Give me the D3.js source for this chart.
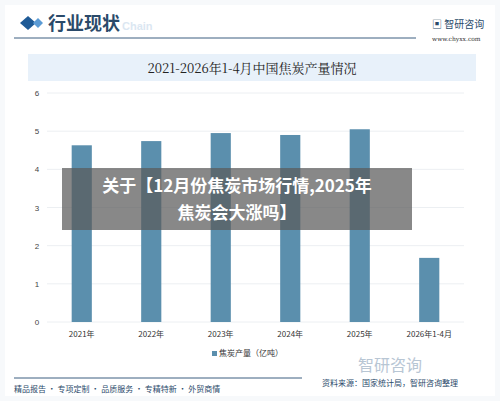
<!DOCTYPE html><html><head><meta charset="utf-8"><script src="https://cdn.jsdelivr.net/npm/d3@7"></script>
<style>body{margin:0;background:#fff;font-family:"Noto Sans CJK SC","Noto Sans",sans-serif}</style></head><body><svg id="c" width="500" height="401"></svg><script>
const categories=["2021年","2022年","2023年","2024年","2025年","2026年1-4月"];
const values=[4.63,4.74,4.95,4.90,5.05,1.68];
const yTicks=[0,1,2,3,4,5,6];
const svg=d3.select("#c");
const F='"Noto Sans CJK SC",sans-serif';
svg.append("rect").attr("width",500).attr("height",401).attr("fill","#f7f9fb");
svg.append("rect").attr("x",5).attr("y",5).attr("width",490).attr("height",391).attr("fill","#fff");
// header
svg.append("path").attr("d","M20,23 L28,16 L36,23 L28,30Z").attr("fill","#1e5a96");
svg.append("path").attr("d","M33,23 L38,18 L43,23 L38,28Z").attr("fill","#5b9bd5");
svg.append("text").attr("x",48).attr("y",30).text("行业现状").attr("font-size",18).attr("fill","#2a4a6a").attr("font-family",F).attr("font-weight","bold");
svg.append("text").attr("x",122).attr("y",30).text("Chain").attr("font-size",11).attr("fill","#dbe7f2").attr("font-family","Arial").attr("font-weight","bold");
svg.append("line").attr("x1",14).attr("x2",416).attr("y1",38).attr("y2",38).attr("stroke","#3c5f80").attr("stroke-width",1);
svg.append("text").attr("x",432).attr("y",28).text("▣ 智研咨询").attr("font-size",10).attr("fill","#2a4a6a").attr("font-family",F);
svg.append("text").attr("x",432).attr("y",41).text("www.chyxx.com").attr("font-size",6).attr("fill","#333").attr("font-family","DejaVu Serif");
svg.append("rect").attr("x",28).attr("y",54).attr("width",448).attr("height",27).attr("fill","#e8f1fa");
svg.append("text").attr("x",252).attr("y",73).attr("text-anchor","middle").text("2021-2026年1-4月中国焦炭产量情况").attr("font-size",13).attr("fill","#222").attr("font-family","Noto Serif CJK SC,"+F);
// chart
const x=d3.scaleBand().domain(categories).range([47,464]).paddingInner(0.71).paddingOuter(0.355);
const y=d3.scaleLinear().domain([0,6]).range([322,93]);
const g=svg.append("g");
g.selectAll("line.g").data(yTicks).join("line").attr("x1",47).attr("x2",464).attr("y1",d=>y(d)).attr("y2",d=>y(d)).attr("stroke","#eceff2");
g.selectAll("text.y").data(yTicks).join("text").attr("x",37).attr("y",d=>y(d)+3).attr("text-anchor","middle").text(d=>d).attr("font-size",8).attr("fill","#444").attr("font-family","Arial");
g.selectAll("rect.b").data(values).join("rect").attr("x",(d,i)=>x(categories[i])).attr("width",x.bandwidth()).attr("y",d=>y(d)).attr("height",d=>y(0)-y(d)).attr("fill","#5b8fad");
g.selectAll("text.x").data(categories).join("text").attr("x",d=>x(d)+x.bandwidth()/2).attr("y",337).attr("text-anchor","middle").text(d=>d).attr("font-size",8).attr("fill","#333").attr("font-family",F);
svg.append("rect").attr("x",212).attr("y",351).attr("width",5).attr("height",5).attr("fill","#5b8fad");
svg.append("text").attr("x",219).attr("y",356).text("焦炭产量（亿吨）").attr("font-size",8).attr("fill","#333").attr("font-family",F);
// footer
svg.append("line").attr("x1",14).attr("x2",302).attr("y1",378).attr("y2",378).attr("stroke","#3c5f80");
svg.append("text").attr("x",14).attr("y",392).text("精品报告 · 专项定制 · 品质服务 · 专精特新 · 外贸商情").attr("font-size",8).attr("fill","#2a4a6a").attr("font-family",F);
svg.append("text").attr("x",358).attr("y",371).text("智研咨询").attr("font-size",16).attr("fill","#b8c6d4").attr("font-family",F);
svg.append("text").attr("x",322).attr("y",386).text("资料来源：国家统计局，智研咨询整理").attr("font-size",8).attr("fill","#2a4a6a").attr("font-family",F);
// overlay
svg.append("rect").attr("x",62).attr("y",168).attr("width",350).attr("height",62).attr("fill","rgba(90,90,90,0.72)");
svg.append("text").attr("x",237).attr("y",192).attr("text-anchor","middle").text("关于【12月份焦炭市场行情,2025年").attr("font-size",17).attr("font-weight","bold").attr("fill","#fff").attr("font-family",F);
svg.append("text").attr("x",237).attr("y",219).attr("text-anchor","middle").text("焦炭会大涨吗】").attr("font-size",17).attr("font-weight","bold").attr("fill","#fff").attr("font-family",F);
</script></body></html>
